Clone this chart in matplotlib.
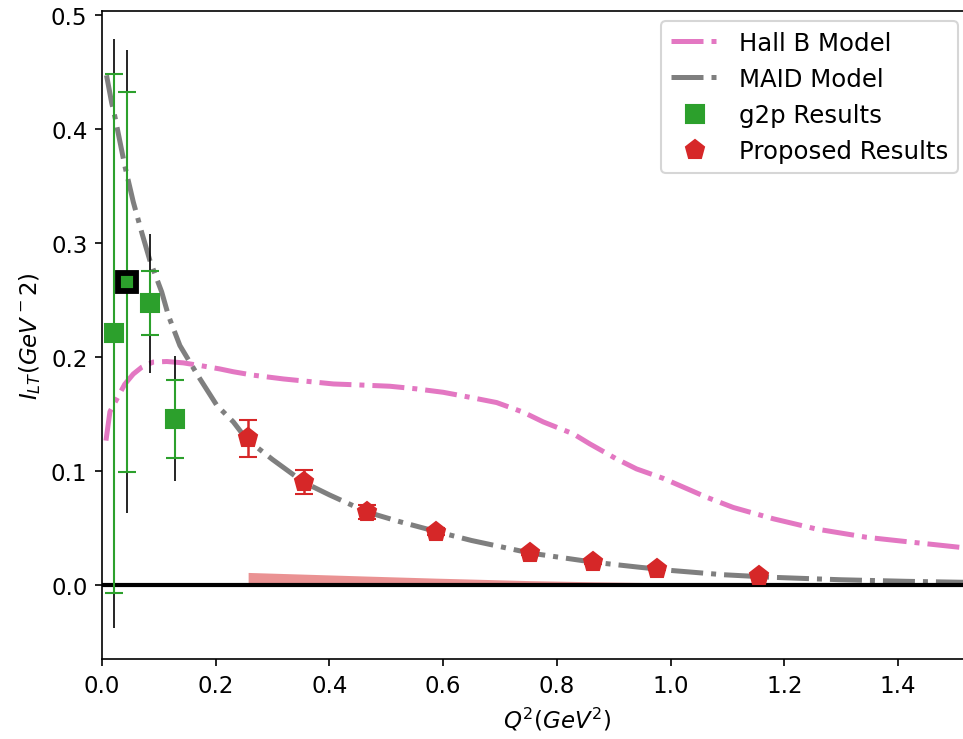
import numpy as np
import matplotlib
matplotlib.use("Agg")
import matplotlib.pyplot as plt

# g2p results (stat errors in green, total errors in black)
g2p_q2 = [0.021, 0.044, 0.084, 0.128]
g2p_val = [0.221, 0.266, 0.247, 0.146]
g2p_lo = [-0.007, 0.0995, 0.219, 0.111]
g2p_hi = [0.448, 0.432, 0.275, 0.180]
g2p_tot_lo = [-0.038, 0.063, 0.186, 0.0915]
g2p_tot_hi = [0.479, 0.469, 0.308, 0.201]

# proposed results
prop_q2 = [0.257, 0.355, 0.466, 0.587, 0.753, 0.864, 0.976, 1.155]
prop_val = [0.1285, 0.090, 0.064, 0.0467, 0.028, 0.020, 0.014, 0.008]
prop_err = [0.016, 0.0105, 0.0065, 0.003, 0.002, 0.0015, 0.001, 0.001]
prop_sys = [0.011, 0.0095, 0.0078, 0.006, 0.0038, 0.0028, 0.002, 0.001]

# MAID model
maid_q2 = [0.008, 0.017, 0.023, 0.040, 0.055, 0.070, 0.084, 0.105, 0.117, 0.137,
           0.155, 0.172, 0.202, 0.231, 0.254, 0.3, 0.355, 0.4, 0.466, 0.52, 0.587,
           0.65, 0.753, 0.864, 0.946, 1.004, 1.092, 1.18, 1.298, 1.415, 1.509, 1.6]
maid_val = [0.447, 0.423, 0.410, 0.368, 0.336, 0.309, 0.285, 0.257, 0.236, 0.210,
            0.195, 0.181, 0.1575, 0.143, 0.128, 0.110, 0.090, 0.079, 0.064, 0.056, 0.047,
            0.039, 0.028, 0.020, 0.0155, 0.0126, 0.009, 0.0067, 0.0046, 0.0032, 0.0024, 0.0018]

# Hall B model
hallb_q2 = [0.007, 0.014, 0.026, 0.040, 0.055, 0.070, 0.090, 0.114, 0.143, 0.172,
            0.207, 0.231, 0.266, 0.319, 0.407, 0.454, 0.506, 0.553, 0.600, 0.647,
            0.694, 0.741, 0.776, 0.829, 0.858, 0.905, 0.940, 0.987, 1.063, 1.110,
            1.181, 1.257, 1.345, 1.415, 1.509, 1.6]
hallb_val = [0.1266, 0.152, 0.163, 0.176, 0.185, 0.191, 0.1955, 0.196, 0.1948, 0.1925,
             0.1895, 0.187, 0.184, 0.1807, 0.1763, 0.1754, 0.1743, 0.172, 0.169, 0.1646,
             0.160, 0.1515, 0.143, 0.1325, 0.1237, 0.1105, 0.1018, 0.0935, 0.077, 0.068,
             0.058, 0.049, 0.0418, 0.038, 0.033, 0.029]

plt.rcParams['font.size'] = 11

fig = plt.figure(figsize=(6.42, 4.933), dpi=150)
ax = fig.add_axes([0.1059, 0.108, 0.9448, 0.876])

ax.plot(hallb_q2, hallb_val, '-.', color='tab:pink', lw=2.4, label='Hall B Model')
ax.plot(maid_q2, maid_val, '-.', color='tab:gray', lw=2.4, label='MAID Model')

ax.axhline(0, color='black', lw=2)

ax.fill_between(prop_q2, 0, prop_sys, color='tab:red', alpha=0.5, lw=0)

# g2p error bars
g2p_val_a = np.array(g2p_val)
ax.errorbar(g2p_q2, g2p_val,
            yerr=[g2p_val_a - np.array(g2p_tot_lo), np.array(g2p_tot_hi) - g2p_val_a],
            fmt='none', ecolor='black', elinewidth=0.8)
ax.errorbar(g2p_q2, g2p_val,
            yerr=[g2p_val_a - np.array(g2p_lo), np.array(g2p_hi) - g2p_val_a],
            fmt='none', ecolor='tab:green', elinewidth=1, capsize=4.3)
ax.plot(g2p_q2, g2p_val, 's', color='tab:green', ms=9, ls='none', label='g2p Results')
ax.plot(g2p_q2[1], g2p_val[1], 's', mfc='tab:green', mec='black', mew=2.8, ms=8.4)

ax.errorbar(prop_q2, prop_val, yerr=prop_err, fmt='none', ecolor='tab:red',
            elinewidth=1.2, capsize=4.2)
ax.plot(prop_q2, prop_val, 'p', color='tab:red', ms=9.5, ls='none', label='Proposed Results')

ax.set_xlim(0, 1.6)
ax.set_ylim(-0.065, 0.5035)
ax.set_xticks([0.0, 0.2, 0.4, 0.6, 0.8, 1.0, 1.2, 1.4])
ax.set_xlabel(r'$Q^2 (GeV^2)$')
ax.set_ylabel(r'$I_{LT} (GeV^-2)$')
ax.legend(loc='upper right', bbox_to_anchor=(958 / 963, 1 - 22 / 740),
          bbox_transform=fig.transFigure, borderaxespad=0, fontsize=11.7)

fig.savefig('out.png', dpi=150)
